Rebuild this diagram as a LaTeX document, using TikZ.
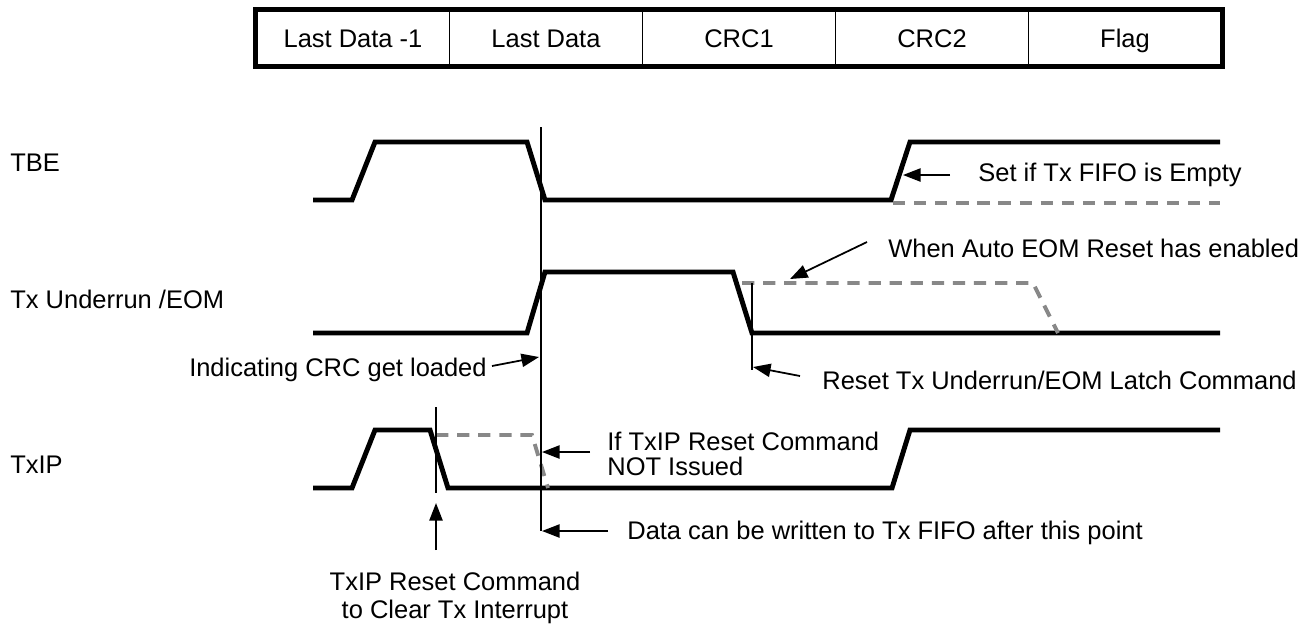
\documentclass[tikz,border=0pt]{standalone}
\usepackage{fontspec}
\setmainfont{Liberation Sans}
\usetikzlibrary{arrows.meta}
\definecolor{altgray}{RGB}{136,136,136}
\begin{document}
\begin{tikzpicture}[x=0.02cm, y=-0.02cm, font=\fontsize{14.5}{15}\selectfont,
  sig/.style={line width=2.8pt},
  thin line/.style={line width=0.8pt},
  alt/.style={draw=altgray, line width=2.2pt, dash pattern=on 7pt off 5pt},
  note/.style={-{Triangle[length=10pt,width=7.5pt]}, line width=1pt},
  cell/.style={draw, line width=0.8pt, minimum width=3.86cm, minimum height=1.13cm, inner sep=0pt, text height=1.13em, text depth=0.1em},
  sig name/.style={anchor=west, inner sep=0pt},
  txt/.style={inner sep=0pt}]
\useasboundingbox (0,0) rectangle (1312,627);
% frame sequence
\node[cell] (ld1) at (353,38) {Last Data -1};
\node[cell] (ld) at (546,38) {Last Data};
\node[cell] (crc1) at (739,38) {CRC1};
\node[cell] (crc2) at (932,38) {CRC2};
\node[cell] (flag) at (1125,38) {Flag};
\draw[line width=2.8pt] (ld1.north west) rectangle (flag.south east);

\node[sig name] (tbe) at (10,163) {TBE};
\node[sig name] (eom) at (10,299) {Tx Underrun /EOM};
\node[sig name] (txip) at (10,465) {TxIP};

% waveforms
\draw[sig] (313,200) -- (352,200) -- (375,142) -- (527,142) -- (545,200) -- (891,200) -- (910,142) -- (1220,142);
\draw[alt] (893,203) -- (1220,203);
\draw[sig] (313,333) -- (527,333) -- (545,272) -- (733,272) -- (752,333) -- (1220,333);
\draw[alt] (742,283) -- (1033,283) -- (1058,333);
\draw[sig] (313,488) -- (352,488) -- (375,430) -- (430,430) -- (448,488) -- (892,488) -- (910,430) -- (1220,430);
\draw[alt] (436,435) -- (532,435) -- (548,488);

\draw[thin line] (541,127) -- (541,531);
\draw[thin line] (752,283) -- (752,370);
\draw[thin line] (436,407) -- (436,493);

% notes
\coordinate (setTail) at (950,175);
\coordinate (setPt) at (903,175);
\node[txt, anchor=west] (setTxt) at (978,175) {Set if Tx FIFO is Empty};
\draw[note] (setTail) -- (setPt);

\coordinate (autoTail) at (867,242);
\coordinate (autoPt) at (790,279);
\node[txt, anchor=west] (autoTxt) at (888,248) {When Auto EOM Reset has enabled};
\draw[note] (autoTail) -- (autoPt);

\coordinate (rstTail) at (800,376);
\coordinate (rstPt) at (753,367);
\node[txt, anchor=west] (rstTxt) at (822,380) {Reset Tx Underrun/EOM Latch Command};
\draw[note] (rstTail) -- (rstPt);

\coordinate (crcTail) at (492,366);
\coordinate (crcPt) at (539,357);
\node[txt, anchor=east] (crcTxt) at (487,370) {Indicating CRC get loaded};
\draw[note] (crcTail) -- (crcPt);

\coordinate (nissTail) at (590,452);
\coordinate (nissPt) at (542,452);
\node[txt, anchor=west, align=left, font=\fontsize{14.5}{14.5}\selectfont] (nissTxt) at (607,454) {If TxIP Reset Command\\NOT Issued};
\draw[note] (nissTail) -- (nissPt);

\coordinate (dataTail) at (608,531);
\coordinate (dataPt) at (542,531);
\node[txt, anchor=west] (dataTxt) at (627,533) {Data can be written to Tx FIFO after this point};
\draw[note] (dataTail) -- (dataPt);

\coordinate (clrTail) at (436,550);
\coordinate (clrPt) at (436,503);
\node[txt, align=center, font=\fontsize{14.5}{16}\selectfont] (clrTxt) at (455,598) {TxIP Reset Command\\to Clear Tx Interrupt};
\draw[note] (clrTail) -- (clrPt);
\end{tikzpicture}
\end{document}
